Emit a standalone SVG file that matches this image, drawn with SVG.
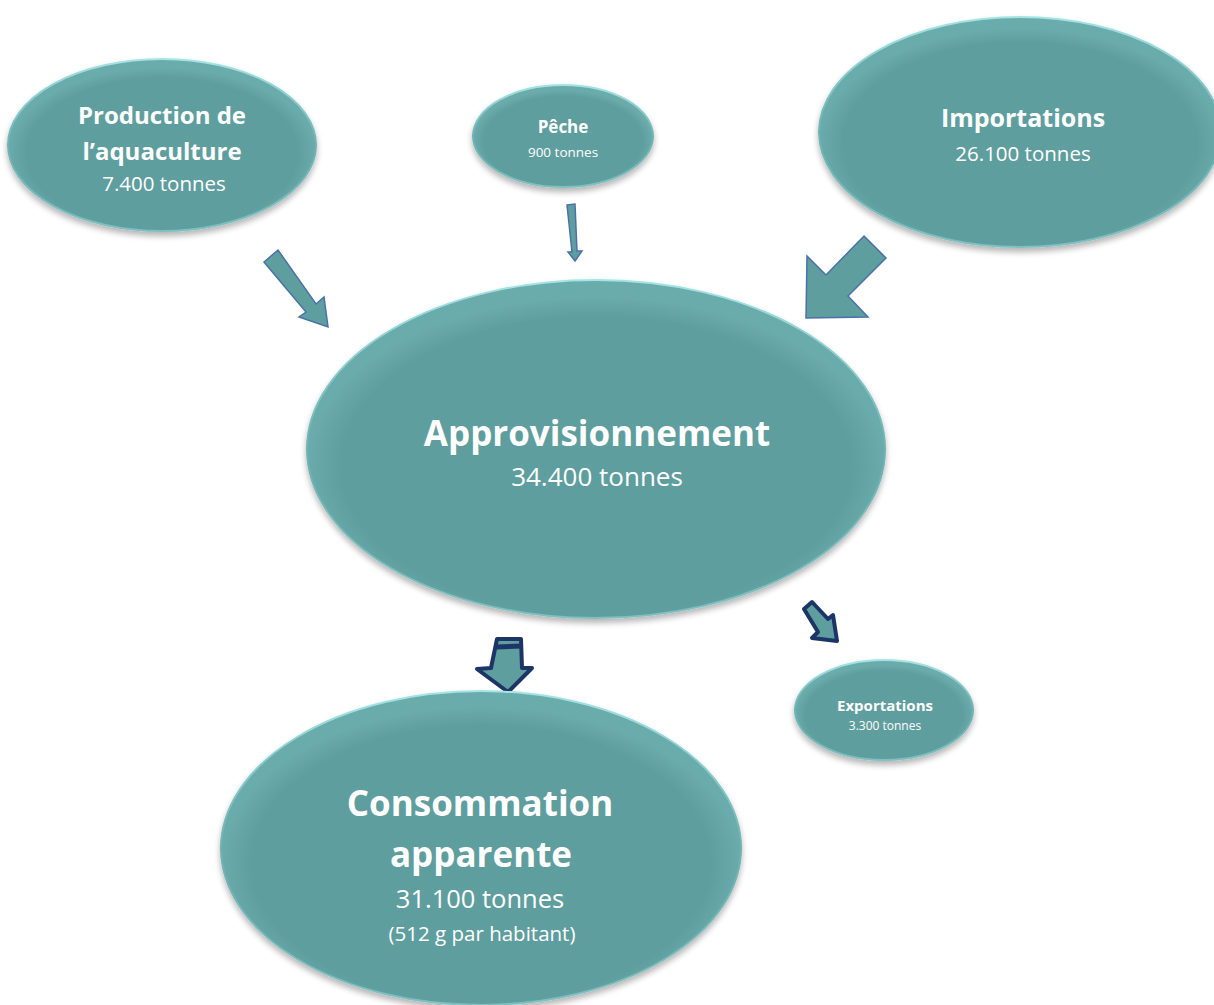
<svg xmlns="http://www.w3.org/2000/svg" width="1214" height="1005" viewBox="0 0 1214 1005">
<defs>
<radialGradient id="g" cx="50%" cy="55%" r="50%">
<stop offset="0.88" stop-color="#5f9e9e"/>
<stop offset="1" stop-color="#6aabab"/>
</radialGradient>
<linearGradient id="rim" x1="0" y1="0" x2="0" y2="1">
<stop offset="0" stop-color="#a6e4e4"/>
<stop offset="0.5" stop-color="#6fb2b2"/>
<stop offset="1" stop-color="#7fc0c0"/>
</linearGradient>
<filter id="sh" x="-10%" y="-10%" width="120%" height="130%">
<feGaussianBlur in="SourceAlpha" stdDeviation="3"/>
<feOffset dy="4" result="b"/>
<feComponentTransfer><feFuncA type="linear" slope="0.3"/></feComponentTransfer>
<feMerge><feMergeNode/><feMergeNode in="SourceGraphic"/></feMerge>
</filter>
</defs>
<style>
.node{fill:url(#g);stroke:url(#rim);stroke-width:2;filter:url(#sh)}
.t{font-family:"Open Sans","Noto Sans",sans-serif;fill:#ffffff;text-anchor:middle}
.b{font-weight:bold}
.arr{fill:#5f9e9e;stroke:#4a72a8;stroke-width:1.5;stroke-linejoin:miter}
.arr2{fill:#5f9e9e;stroke:#1c3566;stroke-width:4;stroke-linejoin:round}
</style>
<rect width="1214" height="1005" fill="#ffffff"/>
<g id="connectors">
<polygon class="arr" points="264,262 278,250 316,304 324,297 328,327 299,317 306,312"/>
<polygon class="arr" points="567,205 575,204 577,251 582,251 575,261 568,252 572,252"/>
<polygon class="arr" points="864,236 886,258 848,296 868,317 806,318 807,256 826,275"/>
<g>
<polygon class="arr2" points="497,639 521,639 522,668 532,668 508,692 477,669 491,668"/>
<line x1="496" y1="647" x2="522" y2="646" stroke="#1c3566" stroke-width="5"/>
</g>
<polygon class="arr2" points="804,609 812,602 828,619 833,615 837,641 812,638 818,632"/>
</g>
<g id="production">
<ellipse class="node" cx="162" cy="145" rx="154" ry="86"/>
<text class="t b" x="162" y="124" font-size="24">Production de</text>
<text class="t b" x="162" y="160" font-size="24">l’aquaculture</text>
<text class="t" x="164" y="191" font-size="20.5">7.400 tonnes</text>
</g>
<g id="peche">
<ellipse class="node" cx="563" cy="136" rx="90" ry="51"/>
<text class="t b" x="563" y="133" font-size="17">Pêche</text>
<text class="t" x="563" y="157" font-size="13.5">900 tonnes</text>
</g>
<g id="importations">
<ellipse class="node" cx="1020" cy="132" rx="201" ry="115"/>
<text class="t b" x="1023" y="127" font-size="25">Importations</text>
<text class="t" x="1023" y="161" font-size="20.5">26.100 tonnes</text>
</g>
<g id="approvisionnement">
<ellipse class="node" cx="596" cy="449" rx="289" ry="169"/>
<text class="t b" x="597" y="446" font-size="35">Approvisionnement</text>
<text class="t" x="597" y="486" font-size="26">34.400 tonnes</text>
</g>
<g id="consommation">
<ellipse class="node" cx="481" cy="848" rx="260" ry="157"/>
<text class="t b" x="480" y="816" font-size="35">Consommation</text>
<text class="t b" x="481" y="867" font-size="35">apparente</text>
<text class="t" x="480" y="908" font-size="25.5">31.100 tonnes</text>
<text class="t" x="482" y="941" font-size="20.5">(512 g par habitant)</text>
</g>
<g id="exportations">
<ellipse class="node" cx="884" cy="710" rx="89" ry="50"/>
<text class="t b" x="885" y="711" font-size="15">Exportations</text>
<text class="t" x="885" y="730" font-size="12">3.300 tonnes</text>
</g>
</svg>
